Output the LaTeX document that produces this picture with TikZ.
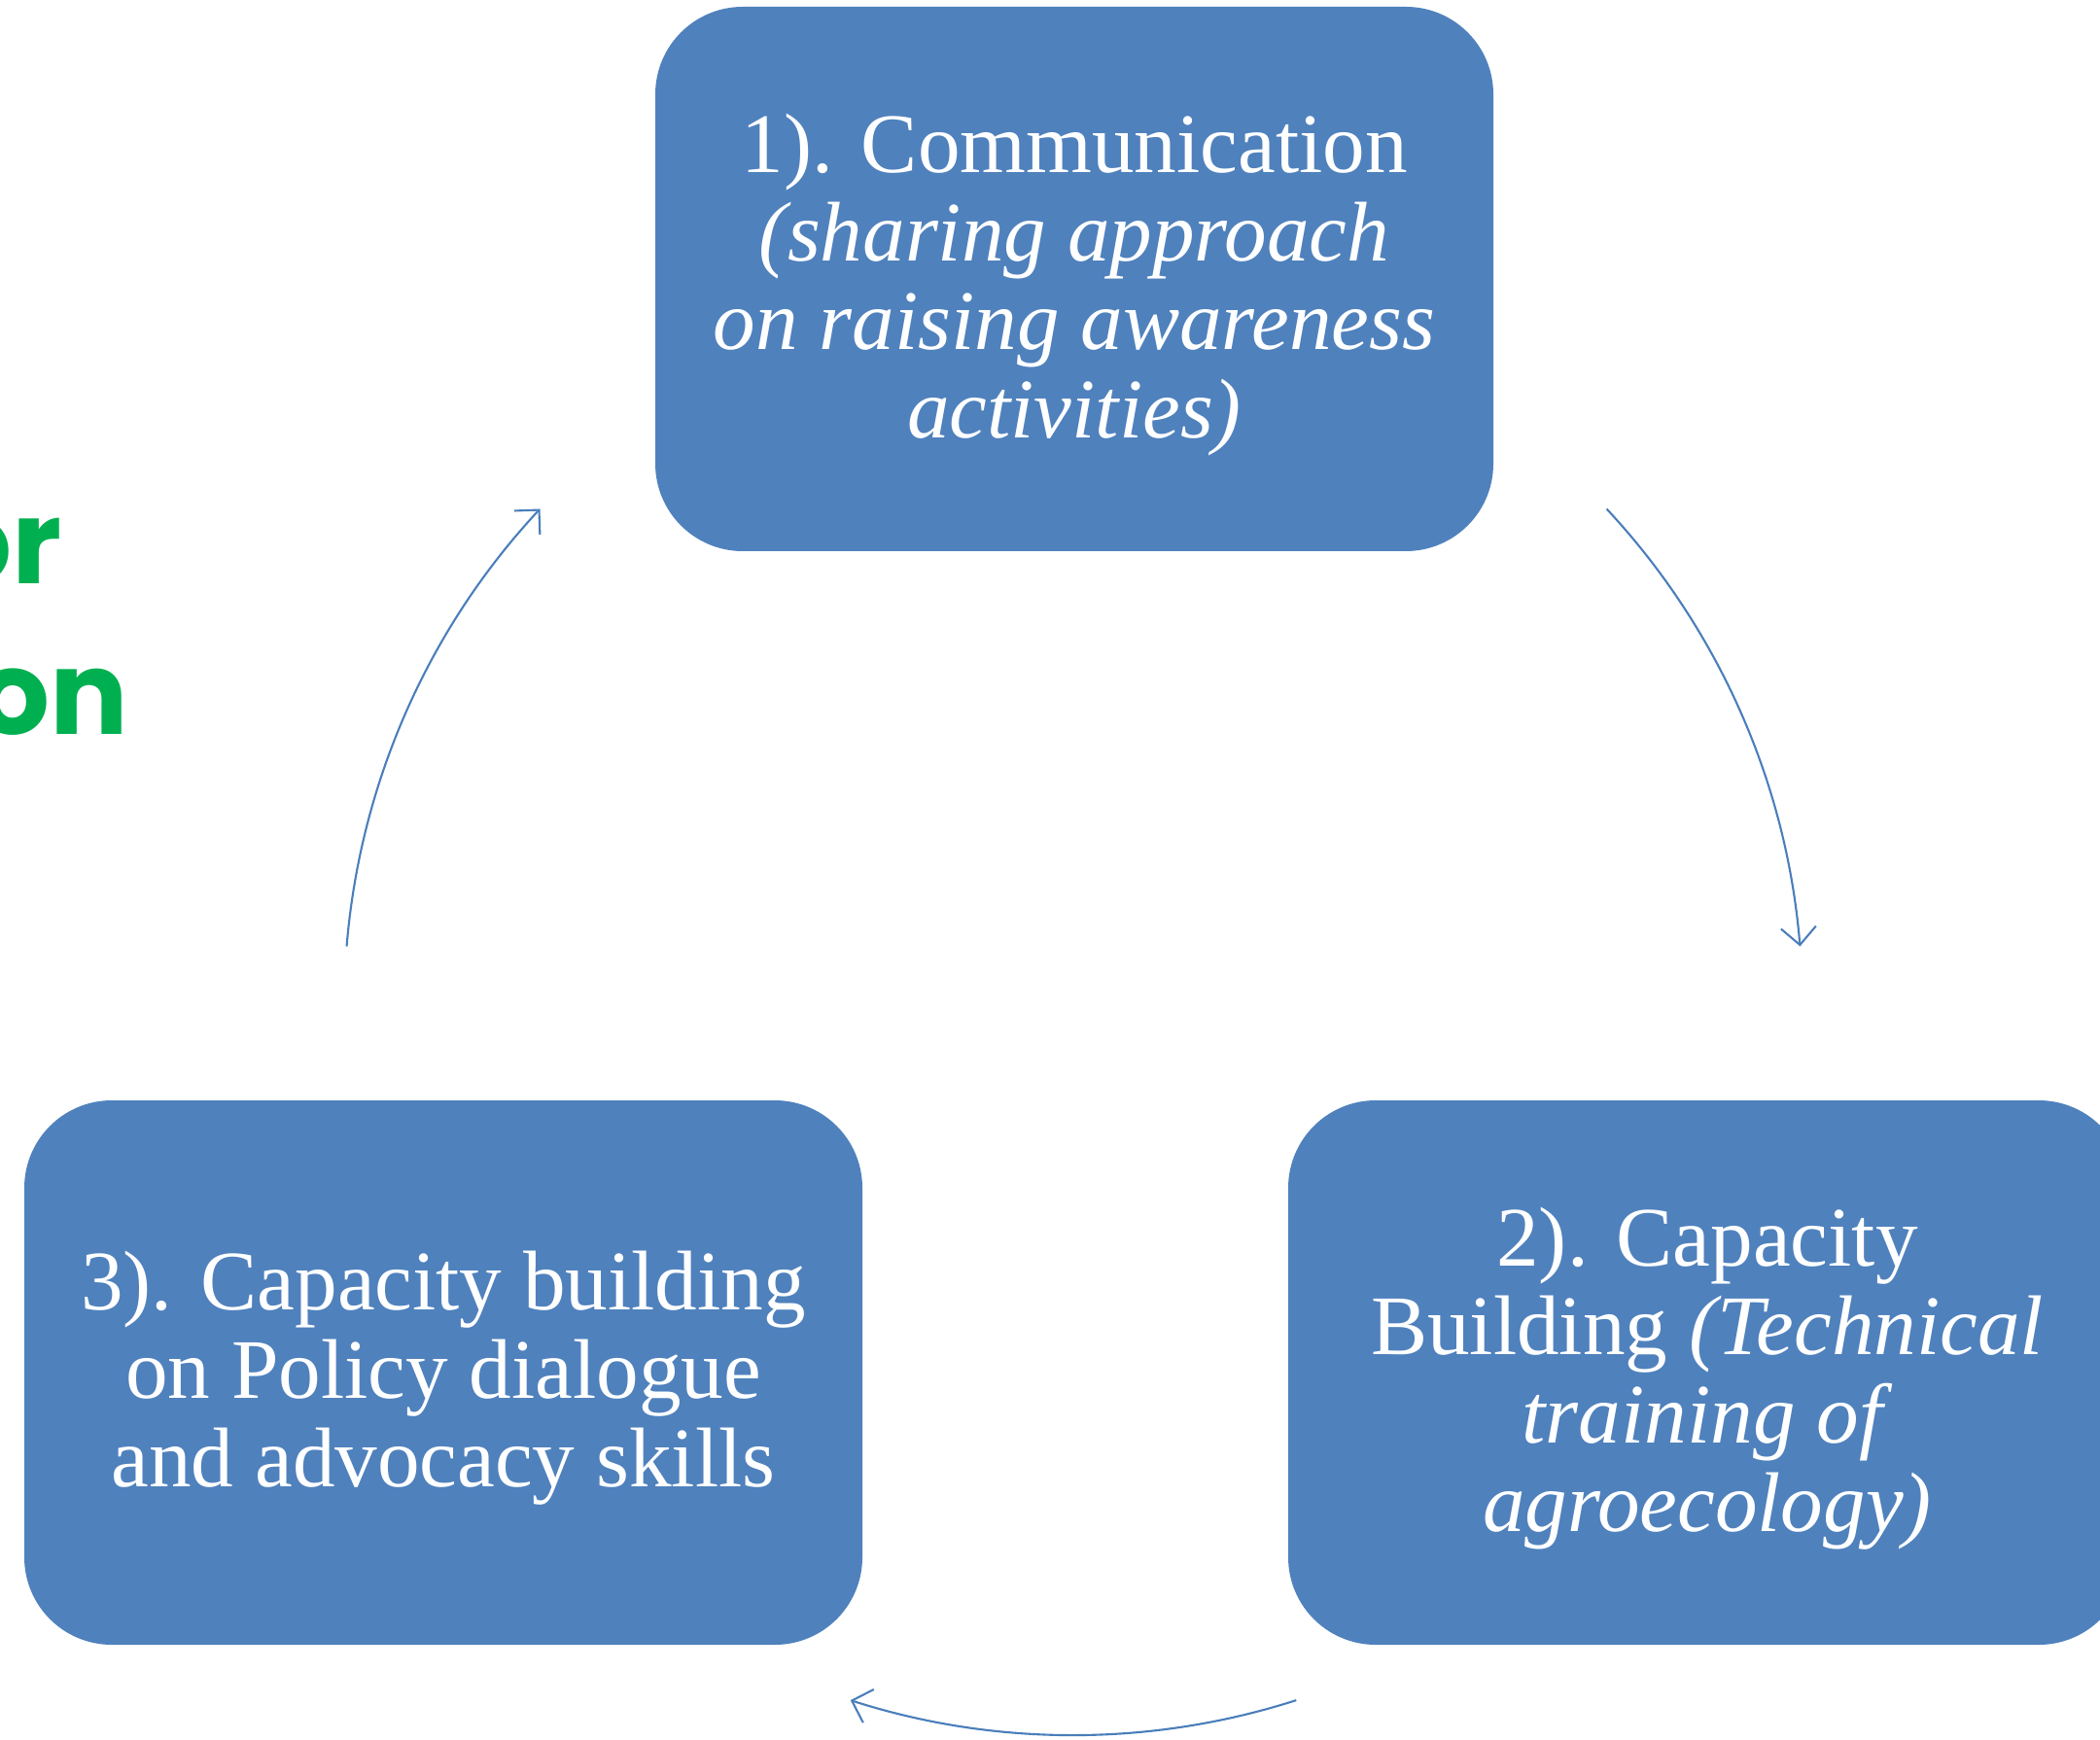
\documentclass[tikz,border=0pt]{standalone}
\usepackage{fontspec}
\setmainfont{Liberation Serif}
\newfontfamily\greenfont{Poppins}[UprightFont=* Bold]
\usetikzlibrary{arrows.meta}
\definecolor{boxblue}{HTML}{4F81BD}
\definecolor{arrowblue}{HTML}{4A7EBB}
\definecolor{titlegreen}{HTML}{00B050}
\tikzset{
  stepbox/.style={rectangle, fill=boxblue, rounded corners=0.9cm,
    minimum width=8.62cm, minimum height=5.60cm, inner sep=0pt},
  boxtext/.style={text=white, align=center, inner sep=0pt,
    font=\fontsize{24.8}{25.9}\selectfont},
  cyclearrow/.style={draw=arrowblue, line width=0.6pt,
    -{Straight Barb[length=1.8mm, width=3.6mm, line width=0.6pt]}},
  greentext/.style={text=titlegreen, inner sep=0pt, anchor=base east,
    font=\greenfont\fontsize{34}{40}\selectfont}
}
\begin{document}
\begin{tikzpicture}
\useasboundingbox (0,0) rectangle (21.6,17.89);
\clip (0,0) rectangle (21.6,17.89);

% partially visible title text at the left edge
\node[greentext] (g1) at (0.64,11.88) {or};
\node[greentext] (g2) at (1.33,10.33) {on};

% boxes
\node[stepbox] (b1) at (11.05,15.02) {};
\node[stepbox] (b2) at (17.56,3.77) {};
\node[stepbox] (b3) at (4.56,3.77) {};

\node[boxtext] (t1) at ([yshift=-0.06cm]b1.center)
  {1). Communication\\ \textit{(sharing approach}\\ \textit{on raising awareness}\\ \textit{activities)}};
\node[boxtext] (t2) at ([yshift=-0.06cm]b2.center)
  {2). Capacity\\ Building \textit{(Technical}\\ \textit{training of}\\ \textit{agroecology)}};
\node[boxtext] (t3) at ([yshift=-0.06cm]b3.center)
  {3). Capacity building\\ on Policy dialogue\\ and advocacy skills};

% cycle arrows (arcs of one circle)
\coordinate (C) at (11.04,7.54);
\coordinate (a1) at ([shift={(43:7.5)}]C);
\coordinate (a2) at ([shift={(-72.2:7.5)}]C);
\coordinate (a3) at ([shift={(175.3:7.5)}]C);
\draw[cyclearrow] (a1) arc[start angle=43, end angle=4.7, radius=7.5];
\draw[cyclearrow] (a2) arc[start angle=-72.2, end angle=-107.8, radius=7.5];
\draw[cyclearrow] (a3) arc[start angle=175.3, end angle=137.0, radius=7.5];
\end{tikzpicture}
\end{document}
